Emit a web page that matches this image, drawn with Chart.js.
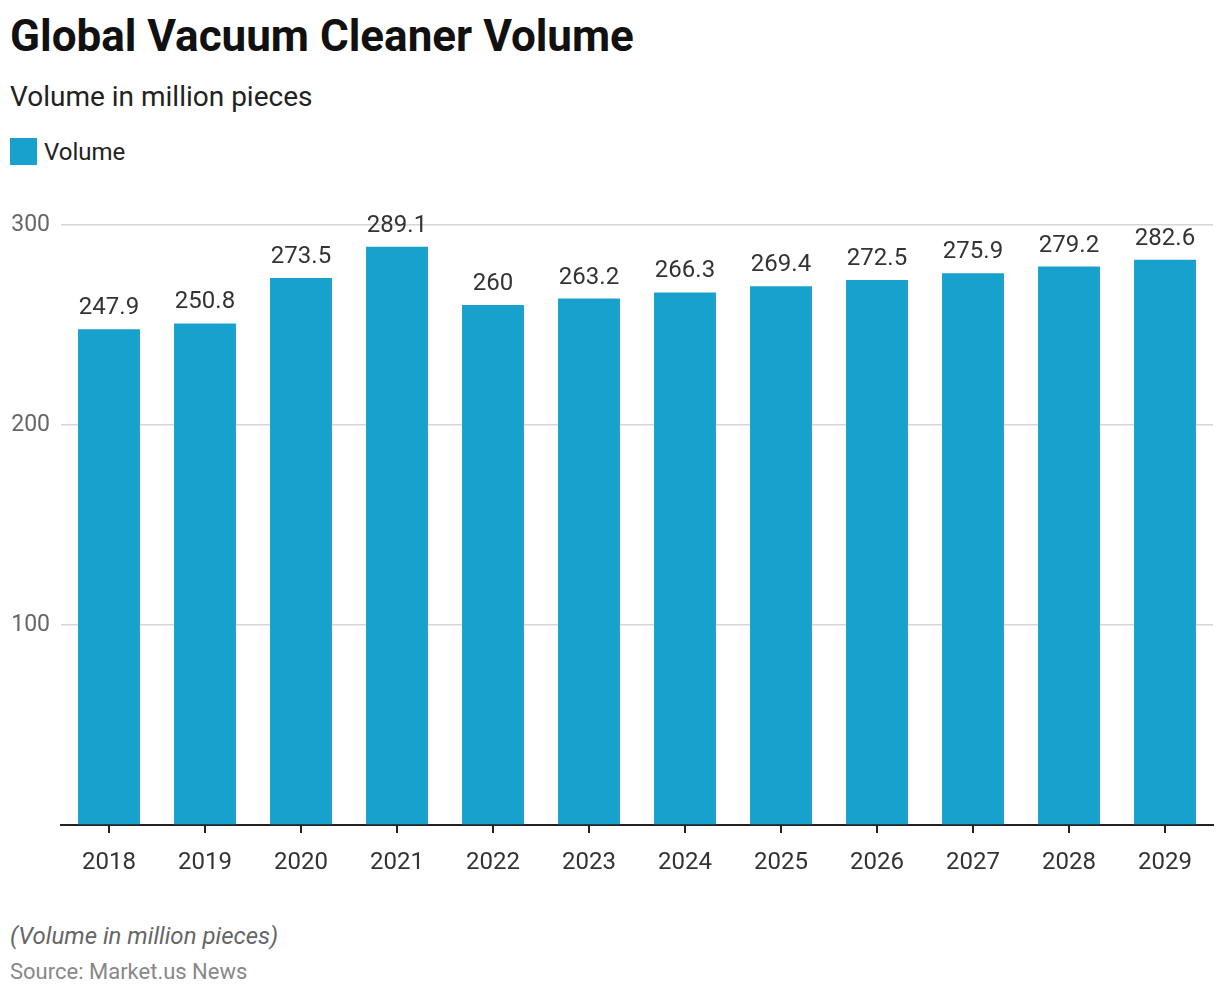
<!DOCTYPE html>
<html>
<head>
<meta charset="utf-8">
<script src="https://cdn.jsdelivr.net/npm/chart.js@4"></script>
<style>
  html, body { margin: 0; padding: 0; background: #fff; width: 1220px; height: 996px; overflow: hidden; font-family: Roboto, sans-serif; }
  .abs { position: absolute; white-space: nowrap; }
  #title { left: 10px; top: 10px; font-size: 44px; font-weight: 700; color: #111; line-height: 52px; }
  #subtitle { left: 10px; top: 80px; font-size: 28px; color: #222; line-height: 34px; }
  #legend { left: 10px; top: 138px; height: 27px; display: flex; align-items: center; }
  #legend .box { width: 27px; height: 27px; background: #18a1cd; margin-right: 7px; }
  #legend .lbl { font-size: 24px; color: #222; }
  #note { left: 10px; top: 921px; font-size: 24px; font-style: italic; color: #666; line-height: 30px; }
  #source { left: 10px; top: 958px; font-size: 22px; color: #888; line-height: 28px; }
  #wrap { position: absolute; left: 0; top: 180px; width: 1220px; height: 705px; }
</style>
</head>
<body>
<div id="title" class="abs">Global Vacuum Cleaner Volume</div>
<div id="subtitle" class="abs">Volume in million pieces</div>
<div id="legend" class="abs"><div class="box"></div><div class="lbl">Volume</div></div>
<div id="wrap"><canvas id="c"></canvas></div>
<div id="note" class="abs">(Volume in million pieces)</div>
<div id="source" class="abs">Source: Market.us News</div>
<script>
const categories = ["2018","2019","2020","2021","2022","2023","2024","2025","2026","2027","2028","2029"];
const volume = [247.9, 250.8, 273.5, 289.1, 260, 263.2, 266.3, 269.4, 272.5, 275.9, 279.2, 282.6];
const yTicks = [100, 200, 300];

const valueLabels = {
  id: 'valueLabels',
  afterDatasetsDraw(chart) {
    const ctx = chart.ctx;
    const meta = chart.getDatasetMeta(0);
    ctx.save();
    ctx.font = '24px Roboto, sans-serif';
    ctx.fillStyle = '#333';
    ctx.textAlign = 'center';
    ctx.textBaseline = 'middle';
    meta.data.forEach((bar, i) => {
      ctx.fillText(String(chart.data.datasets[0].data[i]), bar.x, bar.y - 21);
    });
    ctx.restore();
  }
};

new Chart(document.getElementById('c'), {
  type: 'bar',
  data: {
    labels: categories,
    datasets: [{
      label: 'Volume',
      data: volume,
      backgroundColor: '#18a1cd',
      borderWidth: 0,
      categoryPercentage: 1.0,
      barPercentage: 0.645
    }]
  },
  options: {
    responsive: true,
    maintainAspectRatio: false,
    animation: false,
    layout: { padding: { top: 45, right: 7, left: 0, bottom: 0 } },
    plugins: { legend: { display: false }, tooltip: { enabled: false } },
    scales: {
      x: {
        afterFit(scale) { scale.height = 60; },
        grid: { display: true, offset: false, drawOnChartArea: false, drawTicks: true, tickLength: 8, color: '#222', lineWidth: 2 },
        border: { display: true, color: '#222', width: 2 },
        ticks: { color: '#333', font: { size: 24, family: 'Roboto, sans-serif' }, padding: 16, maxRotation: 0 }
      },
      y: {
        min: 0,
        max: 300,
        afterFit(scale) { scale.width = 61; },
        afterBuildTicks(scale) { scale.ticks = [0].concat(yTicks).map(v => ({ value: v })); },
        grid: { color: (c) => c.tick && c.tick.value === 0 ? 'rgba(0,0,0,0)' : '#d6d6d6', lineWidth: 1.5, drawTicks: false },
        border: { display: false },
        ticks: {
          color: '#666',
          font: { size: 23, family: 'Roboto, sans-serif' },
          padding: 11,
          callback: (v) => v === 0 ? '' : String(v)
        }
      }
    }
  },
  plugins: [valueLabels]
});
</script>
</body>
</html>
